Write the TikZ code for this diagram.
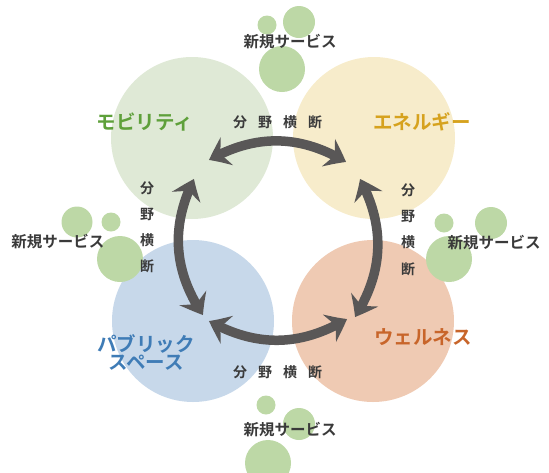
\documentclass[tikz,border=0pt]{standalone}
\usepackage{fontspec}
\newfontfamily\jp{Noto Sans CJK JP}[BoldFont={Noto Sans CJK JP Bold}]
\usetikzlibrary{arrows.meta,bending}
\definecolor{cgreen}{HTML}{DFE9D6}
\definecolor{cyellow}{HTML}{F7ECCB}
\definecolor{cblue}{HTML}{C7D8EA}
\definecolor{corange}{HTML}{EFCAB3}
\definecolor{bubble}{HTML}{BDD8A6}
\definecolor{arrowgray}{HTML}{595757}
\definecolor{tgreen}{HTML}{5EA03A}
\definecolor{tyellow}{HTML}{D6A21E}
\definecolor{tblue}{HTML}{3F7CB6}
\definecolor{torange}{HTML}{C8652A}
\definecolor{tdark}{HTML}{3A3A3A}
\tikzset{
  bigcircle/.style={circle, inner sep=0pt, minimum size=162pt},
  bubblecirc/.style={circle, fill=bubble, inner sep=0pt},
  domainlabel/.style={font=\jp\bfseries\fontsize{19.5}{21}\selectfont, align=center},
  newsvc/.style={font=\jp\bfseries\fontsize{15.5}{17}\selectfont, text=tdark, inner sep=0pt},
  crosschar/.style={font=\jp\bfseries\fontsize{14}{15}\selectfont, text=tdark, inner sep=0pt},
  crossarrow/.style={draw=arrowgray, line width=9.5pt,
    arrows={Stealth[length=20pt,width=30pt,inset=7pt,bend]-Stealth[length=20pt,width=30pt,inset=7pt,bend]}}
}
\begin{document}
\begin{tikzpicture}[x=1pt,y=-1pt]
\useasboundingbox (0,0) rectangle (549,472);
% big circles
\node[bigcircle, fill=cgreen] (mob) at (192,138) {};
\node[bigcircle, fill=cyellow] (ene) at (374,138) {};
\node[bigcircle, fill=cblue] (pub) at (193,321) {};
\node[bigcircle, fill=corange] (wel) at (373,321) {};
% bubbles top
\node[bubblecirc, minimum size=19pt] (b1) at (267,25) {};
\node[bubblecirc, minimum size=32pt] (b2) at (299,22) {};
\node[bubblecirc, minimum size=46pt] (b3) at (282,69) {};
% bubbles left
\node[bubblecirc, minimum size=31pt] (b4) at (77,222) {};
\node[bubblecirc, minimum size=19pt] (b5) at (111,222) {};
\node[bubblecirc, minimum size=46pt] (b6) at (120,259) {};
% bubbles right
\node[bubblecirc, minimum size=19pt] (b7) at (444,223) {};
\node[bubblecirc, minimum size=32pt] (b8) at (491,223) {};
\node[bubblecirc, minimum size=46pt] (b9) at (449,259) {};
% bubbles bottom
\node[bubblecirc, minimum size=19pt] (b10) at (266,405) {};
\node[bubblecirc, minimum size=32pt] (b11) at (299,424) {};
\node[bubblecirc, minimum size=46pt] (b12) at (268,463) {};
% new service labels
\node[newsvc] (n1) at (290,42) {新規サービス};
\node[newsvc] (n2) at (58,242) {新規サービス};
\node[newsvc] (n3) at (494,243) {新規サービス};
\node[newsvc] (n4) at (290,430) {新規サービス};
% domain labels
\node[domainlabel, text=tgreen] (lmob) at (145,122) {モビリティ};
\node[domainlabel, text=tyellow] (lene) at (422,122) {エネルギー};
\node[domainlabel, text=tblue] (lpub) at (146,352) {パブリック\\[-3pt]スペース};
\node[domainlabel, text=torange] (lwel) at (423,337) {ウェルネス};
% arrows
\coordinate (ta) at (209,160);
\coordinate (tb) at (346,162);
\coordinate (ba) at (209,321);
\coordinate (bb) at (347,319);
\coordinate (la) at (194,179);
\coordinate (lb) at (203,315);
\coordinate (ra) at (360,179);
\coordinate (rb) at (355,317);
\draw[crossarrow] (ta) to[bend left=30] (tb);
\draw[crossarrow] (ba) to[bend right=30] (bb);
\draw[crossarrow] (la) to[bend right=30] (lb);
\draw[crossarrow] (ra) to[bend left=30] (rb);
% cross-domain labels
\foreach \c [count=\i from 0] in {分,野,横,断}{
  \node[crosschar] (ct\i) at (240+25*\i,122) {\c};
  \node[crosschar] (cb\i) at (240+25*\i,372) {\c};
  \node[crosschar] (cl\i) at (147,188+26*\i) {\c};
  \node[crosschar] (cr\i) at (408,190+26.3*\i) {\c};
}
\end{tikzpicture}
\end{document}
